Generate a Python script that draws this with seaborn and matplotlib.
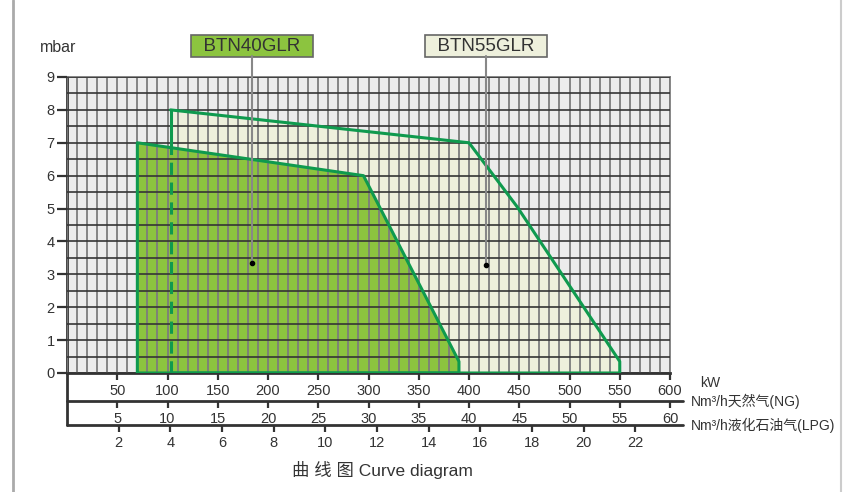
import numpy as np
import matplotlib.pyplot as plt
import seaborn as sns
from matplotlib.ticker import MultipleLocator
from matplotlib.lines import Line2D

# Style first, then fonts (set_theme resets font.family)
sns.set_theme(style="white")
plt.rcParams['font.family'] = ['Liberation Sans', 'Noto Sans CJK SC', 'DejaVu Sans']

# Operating field data (kW vs mbar)
kw40 = [70, 70, 295, 390, 390]
mbar40 = [0, 7, 6, 0.35, 0]
kw55 = [103, 103, 400, 448, 550, 550]
mbar55 = [0, 8, 7, 5.05, 0.35, 0]

# Axis ticks
kw_ticks = list(range(50, 601, 50))
mbar_ticks = list(range(0, 10))
ng_ticks = list(range(5, 61, 5))
lpg_ticks = list(range(2, 23, 2))
kw_per_ng = 10.0
kw_per_lpg = 25.7

# Labels and their pointer positions
label40, point40 = "BTN40GLR", (184, 3.35)
label55, point55 = "BTN55GLR", (417, 3.28)

green = '#8cc43f'
cream = '#eef0dc'
edge = '#0f9a4e'
dark = '#333333'
vgrid = '#7d7d7d'

fig = plt.figure(figsize=(8.43, 4.92), dpi=100)
ax = fig.add_axes([67 / 843, 119 / 492, 603 / 843, 296 / 492])
ax.set_facecolor('#ececec')

# Filled areas
ax.fill(kw55, mbar55, color=cream, lw=0, zorder=1)
ax.fill(kw40, mbar40, color=green, lw=0, zorder=1.1)

# Outlines
sns.lineplot(x=kw40 + [kw40[0]], y=mbar40 + [mbar40[0]], sort=False, estimator=None,
             color=edge, lw=2.2, ax=ax, zorder=4)
sns.lineplot(x=kw55[1:] + [kw55[0]], y=mbar55[1:] + [mbar55[0]], sort=False, estimator=None,
             color=edge, lw=2.2, ax=ax, zorder=4)
# left edge of BTN55: solid above BTN40, dashed inside it
y_cross = np.interp(kw55[0], kw40[1:3], mbar40[1:3])
ax.plot([kw55[0], kw55[1]], [y_cross, mbar55[1]], color=edge, lw=2.2, zorder=4)
ax.plot([kw55[0], kw55[0]], [mbar55[0], y_cross], color=edge, lw=2.2,
        dashes=(4, 2.5), zorder=4)

ax.set_xlim(0, 600)
ax.set_ylim(0, 9)

# Grid drawn over the fills
ax.set_axisbelow(False)
ax.xaxis.set_minor_locator(MultipleLocator(10))
ax.yaxis.set_minor_locator(MultipleLocator(0.5))
ax.grid(which='both', axis='x', color=vgrid, lw=1.3)
ax.grid(which='both', axis='y', color='#353535', lw=1.2)

ax.set_xticks(kw_ticks)
ax.set_yticks(mbar_ticks)
ax.tick_params(bottom=True, left=True)
ax.tick_params(axis='x', which='major', direction='out', length=5, width=1.6,
               color=dark, labelsize=10.5, labelcolor=dark, pad=3)
ax.tick_params(axis='y', which='major', direction='out', length=7, width=1.6,
               color=dark, labelsize=10.5, labelcolor=dark, pad=2)
ax.tick_params(which='minor', length=0)

for side in ['left', 'bottom']:
    ax.spines[side].set_color(dark)
    ax.spines[side].set_linewidth(2)
for side in ['top', 'right']:
    ax.spines[side].set_color(vgrid)
    ax.spines[side].set_linewidth(1.3)

# Secondary flow axes
ng_y, lpg_y = -0.0946, -0.1757
ng = ax.secondary_xaxis(ng_y, functions=(lambda x: x / kw_per_ng, lambda x: x * kw_per_ng))
lpg = ax.secondary_xaxis(lpg_y, functions=(lambda x: x / kw_per_lpg, lambda x: x * kw_per_lpg))
ng.set_xticks(ng_ticks)
lpg.set_xticks(lpg_ticks)
for sec in (ng, lpg):
    sec.spines['bottom'].set_visible(False)
    sec.tick_params(axis='x', which='major', direction='out', length=5, width=1.6,
                    color=dark, labelsize=10.5, labelcolor=dark, pad=3)
    sec.tick_params(which='minor', length=0)

for yy in (ng_y, lpg_y):
    ax.plot([0, 1.022], [yy, yy], transform=ax.transAxes, color=dark, lw=2, clip_on=False)
ax.plot([0, 0], [0, lpg_y], transform=ax.transAxes, color=dark, lw=2, clip_on=False)

ax.text(1.05, -0.035, "kW", transform=ax.transAxes, fontsize=10, color=dark, va='center')
ax.text(1.035, ng_y, "Nm³/h天然气(NG)", transform=ax.transAxes, fontsize=10,
        color=dark, va='center')
ax.text(1.035, lpg_y, "Nm³/h液化石油气(LPG)", transform=ax.transAxes, fontsize=10,
        color=dark, va='center')
ax.text(-0.015, 1.10, "mbar", transform=ax.transAxes, fontsize=11.5, color=dark,
        ha='center', va='center')

# Model labels with pointer lines
for text, (px, py), face in [(label40, point40, green), (label55, point55, cream)]:
    ax.plot([px, px], [py, 9.64], color='#888888', lw=1.5, clip_on=False, zorder=5)
    ax.plot(px, py, 'o', color='black', ms=3, zorder=6)
    ax.text(px, 9.94, "  " + text + "  ", ha='center', va='center', fontsize=13.5,
            color=dark, clip_on=False,
            bbox=dict(boxstyle='square,pad=0.12', fc=face, ec='#666666', lw=1.2))

fig.text(382 / 843, 1 - 470 / 492, "曲 线 图 Curve diagram", ha='center', va='center',
         fontsize=12.5, color=dark)

# outer frame lines
fig.add_artist(Line2D([13 / 843, 13 / 843], [0, 1], color='#aaaaaa', lw=2))
fig.add_artist(Line2D([841 / 843, 841 / 843], [0, 1], color='#cccccc', lw=1.5))

plt.savefig("out.png", dpi=100)
